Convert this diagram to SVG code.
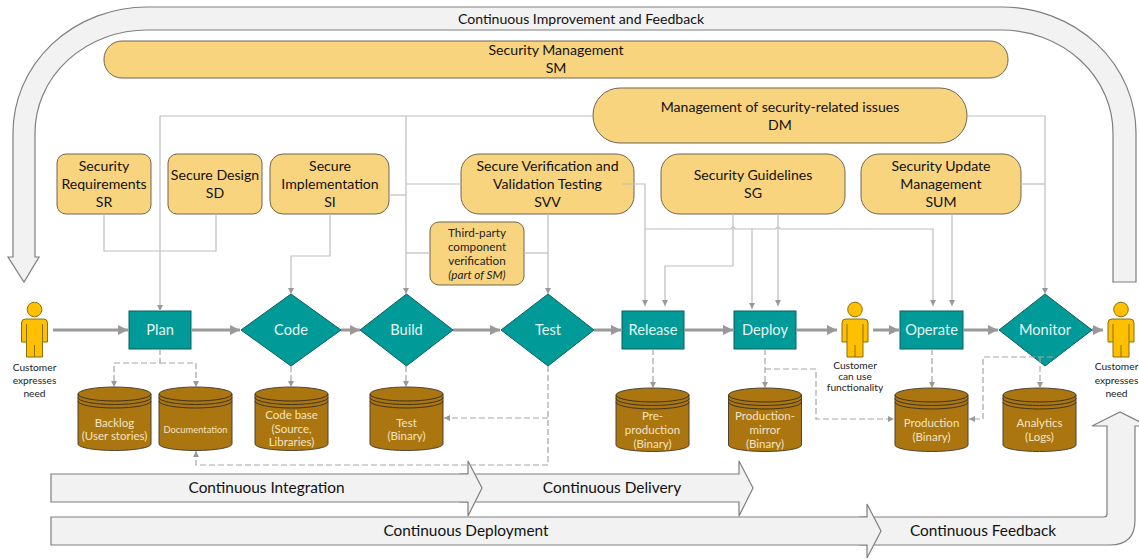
<svg xmlns="http://www.w3.org/2000/svg" xmlns:xlink="http://www.w3.org/1999/xlink" width="1139" height="559" viewBox="0 0 1139 559">
<style>
text{font-family:"Lato","Carlito","Noto Sans",sans-serif;text-anchor:middle}
.band{fill:#f2f2f2;stroke:#7f7f7f;stroke-width:1.2}
.bt{font-size:15.4px;fill:#111}
.mg{fill:#f9d47e;stroke:#6f6650;stroke-width:1}
.mt{font-size:14.1px;fill:#111}
.tp{font-size:11.7px;fill:#222}
.proc{fill:#009a98;stroke:#0a5f5f;stroke-width:1}
.pt{font-size:14.6px;fill:#e6f5f1}
.cy{fill:#ab750f;stroke:#4d4330;stroke-width:1}
.cl{fill:none;stroke:#3d3420;stroke-width:1}
.ct{font-size:11.5px;fill:#f3e4c4}
.lb{font-size:10.2px;fill:#222}
.thick{fill:none;stroke:#999;stroke-width:3;marker-end:url(#big)}
.thin{fill:none;stroke:#bdbdbd;stroke-width:1.2}
.to{marker-end:url(#small)}
.dash{fill:none;stroke:#a6a6a6;stroke-width:1.2;stroke-dasharray:6 3}
.head{fill:#ffc000;stroke:#8a6d10;stroke-width:1}
</style>
<defs>
<marker id="big" markerUnits="userSpaceOnUse" markerWidth="12" markerHeight="12" refX="10" refY="5" orient="auto"><path d="M0 0L10 5L0 10z" fill="#999"/></marker>
<marker id="small" markerUnits="userSpaceOnUse" markerWidth="8" markerHeight="8" refX="6" refY="3" orient="auto"><path d="M0 0L6 3L0 6z" fill="#999"/></marker>
<g id="person"><circle class="head" cx="0" cy="-20.5" r="7.3"/><path class="head" d="M-9-11H9Q13-11 13-7V12H8V27H-8V12H-13V-7Q-13-11-9-11z"/><path class="cl" style="stroke:#8a6d10" d="M-8-6V12M8-6V12M0 15V27"/></g>
<g id="cyl"><path class="cy" d="M0 7A36.500 7 0 0 1 73 7V57A36.500 6.500 0 0 1 0 57z"/><path class="cl" d="M0 7A36.500 7 0 0 0 73 7M0 10.500A36.500 7 0 0 0 73 10.500M0 14A36.500 7 0 0 0 73 14"/></g>
</defs>

<g id="improvement-band"><path class="band" d="M13 133A134 126 0 0 1 147 7H1002A134 126 0 0 1 1136 133V282H1113V133A112 103 0 0 0 1002 30H147A112 103 0 0 0 35 133V257H39L24 282L8 257H13z"/><text class="mt" x="581" y="24">Continuous Improvement and Feedback</text></g>
<g id="feedback-band"><path class="band" d="M860 517H1104Q1107 517 1107 514V426H1092L1120 412L1148 426H1135V520Q1135 545 1110 545H860z"/><text class="bt" x="983" y="536">Continuous Feedback</text></g>
<g id="deployment-band"><path class="band" d="M51 517H867V504L881 531L867 558V545H51z"/><text class="bt" x="466" y="536">Continuous Deployment</text></g>
<g id="delivery-band"><path class="band" d="M460 474H739V461L753 488L739 516V502H460z"/><text class="bt" x="612" y="493">Continuous Delivery</text></g>
<g id="integration-band"><path class="band" d="M51 474H468V461L482 488L468 516V502H51z"/><text class="bt" x="266.500" y="493">Continuous Integration</text></g>

<g id="SM"><rect class="mg" x="104" y="41" width="904" height="37" rx="18" /><text class="mt" x="556" y="55">Security Management</text><text class="mt" x="556" y="73">SM</text></g>
<g id="DM"><rect class="mg" x="593" y="88" width="374" height="55" rx="27"/><text class="mt" x="780" y="112">Management of security-related issues</text><text class="mt" x="780" y="130">DM</text></g>
<g id="SR"><rect class="mg" x="57" y="154" width="94" height="60" rx="9"/><text class="mt" x="104" y="171">Security</text><text class="mt" x="104" y="189">Requirements</text><text class="mt" x="104" y="207">SR</text></g>
<g id="SD"><rect class="mg" x="168" y="154" width="94" height="60" rx="9"/><text class="mt" x="215" y="180">Secure Design</text><text class="mt" x="215" y="198">SD</text></g>
<g id="SI"><rect class="mg" x="270" y="154" width="119" height="60" rx="13"/><text class="mt" x="330" y="171">Secure</text><text class="mt" x="330" y="189">Implementation</text><text class="mt" x="330" y="207">SI</text></g>
<g id="SVV"><rect class="mg" x="461" y="154" width="173" height="60" rx="18"/><text class="mt" x="547.500" y="171">Secure Verification and</text><text class="mt" x="547.500" y="189">Validation Testing</text><text class="mt" x="547.500" y="207">SVV</text></g>
<g id="SG"><rect class="mg" x="661" y="154" width="184" height="60" rx="18"/><text class="mt" x="753" y="180">Security Guidelines</text><text class="mt" x="753" y="198">SG</text></g>
<g id="SUM"><rect class="mg" x="861" y="154" width="160" height="60" rx="18"/><text class="mt" x="941" y="171">Security Update</text><text class="mt" x="941" y="189">Management</text><text class="mt" x="941" y="207">SUM</text></g>
<g id="third-party"><rect class="mg" x="430" y="222" width="94" height="63" rx="9"/><text class="tp" x="477" y="237">Third-party</text><text class="tp" x="477" y="251">component</text><text class="tp" x="477" y="265">verification</text><text class="tp" x="477" y="279" font-style="italic">(part of SM)</text></g>

<g id="Plan"><rect class="proc" x="129" y="311" width="62" height="38"/><text class="pt" x="160" y="335">Plan</text></g>
<g id="Code"><path class="proc" d="M291 294L341 330L291 366L241 330z"/><text class="pt" x="291" y="335">Code</text></g>
<g id="Build"><path class="proc" d="M406.500 294L453 330L406.500 366L360 330z"/><text class="pt" x="406.500" y="335">Build</text></g>
<g id="Test"><path class="proc" d="M548 294L594 330L548 366L501 330z"/><text class="pt" x="548" y="335">Test</text></g>
<g id="Release"><rect class="proc" x="622" y="311" width="62" height="38"/><text class="pt" x="653" y="335">Release</text></g>
<g id="Deploy"><rect class="proc" x="734" y="311" width="62" height="38"/><text class="pt" x="765" y="335">Deploy</text></g>
<g id="Operate"><rect class="proc" x="900" y="311" width="63" height="38"/><text class="pt" x="931.500" y="335">Operate</text></g>
<g id="Monitor"><path class="proc" d="M1045 294L1092 330L1045 366L999 330z"/><text class="pt" x="1045" y="335">Monitor</text></g>

<g id="customer-1"><use href="#person" x="34.500" y="330"/><text class="lb" x="34.500" y="371">Customer</text><text class="lb" x="34.500" y="384">expresses</text><text class="lb" x="34.500" y="397">need</text></g>
<g id="customer-2"><use href="#person" x="855" y="330"/><text class="lb" x="855" y="369">Customer</text><text class="lb" x="855" y="380">can use</text><text class="lb" x="855" y="391">functionality</text></g>
<g id="customer-3"><use href="#person" x="1121" y="330"/><text class="lb" x="1116.500" y="370">Customer</text><text class="lb" x="1116.500" y="384">expresses</text><text class="lb" x="1116.500" y="397">need</text></g>

<g id="Backlog"><use href="#cyl" x="78" y="387"/><text class="ct" x="114.500" y="427">Backlog</text><text class="ct" x="114.500" y="440">(User stories)</text></g>
<g id="Documentation"><use href="#cyl" x="159" y="387"/><text class="ct" style="font-size:9.4px" x="195.500" y="433">Documentation</text></g>
<g id="Code-base"><use href="#cyl" x="255" y="387"/><text class="ct" x="291.500" y="419">Code base</text><text class="ct" x="291.500" y="433">(Source,</text><text class="ct" x="291.500" y="446">Libraries)</text></g>
<g id="Test-binary"><use href="#cyl" x="370" y="387"/><text class="ct" x="406.500" y="427">Test</text><text class="ct" x="406.500" y="440">(Binary)</text></g>
<g id="Pre-production"><use href="#cyl" x="616" y="388"/><text class="ct" x="652.500" y="420">Pre-</text><text class="ct" x="652.500" y="434">production</text><text class="ct" x="652.500" y="448">(Binary)</text></g>
<g id="Production-mirror"><use href="#cyl" x="728.500" y="388"/><text class="ct" x="765" y="420">Production-</text><text class="ct" x="765" y="434">mirror</text><text class="ct" x="765" y="448">(Binary)</text></g>
<g id="Production"><use href="#cyl" x="895" y="388"/><text class="ct" x="931.500" y="427">Production</text><text class="ct" x="931.500" y="441">(Binary)</text></g>
<g id="Analytics"><use href="#cyl" x="1003" y="388"/><text class="ct" x="1039.500" y="427">Analytics</text><text class="ct" x="1039.500" y="441">(Logs)</text></g>

<g id="connectors">
<path class="thick" d="M53 330H128"/><path class="thick" d="M191 330H240"/><path class="thick" d="M341 330H360"/><path class="thick" d="M453 330H500"/><path class="thick" d="M594 330H621"/><path class="thick" d="M684 330H733"/><path class="thick" d="M796 330H837"/><path class="thick" d="M873 330H899"/><path class="thick" d="M963 330H998"/><path class="thick" d="M1092 330H1103"/>
<path class="thin to" d="M593 116H160V311"/><path class="thin to" d="M406 116V294"/>
<path class="thin" d="M104 214V251H216V214"/>
<path class="thin to" d="M330 214V256H291V294"/>
<path class="thin" d="M389 195H406"/><path class="thin" d="M461 184H406"/><path class="thin" d="M430 253H406"/><path class="thin" d="M524 253H548"/>
<path class="thin to" d="M548 214V294"/>
<path class="thin to" d="M622 184H645V306"/>
<path class="thin to" d="M645 229H731A2 2 0 0 1 735 229H776A2 2 0 0 1 780 229H933V306"/>
<path class="thin to" d="M733 214V266H665V306"/>
<path class="thin to" d="M778 214V306"/>
<path class="thin to" d="M752 229V309"/>
<path class="thin to" d="M952 214V306"/>
<path class="thin" d="M1021 184H1045"/>
<path class="thin to" d="M967 116H1045V294"/>
<path class="dash to" d="M160 349V363H114V387"/><path class="dash to" d="M160 363H196V387"/>
<path class="dash to" d="M291 366V387"/><path class="dash to" d="M406 366V387"/>
<path class="dash to" d="M548 366V465H196V451"/><path class="dash to" d="M548 418H444"/>
<path class="dash to" d="M653 349V388"/><path class="dash to" d="M765 349V388"/>
<path class="dash to" d="M765 369H816V419H894"/>
<path class="dash to" d="M932 349V388"/><path class="dash to" d="M1040 357V388"/>
<path class="dash to" d="M1053 357H983V419H969"/>
</g>
</svg>
